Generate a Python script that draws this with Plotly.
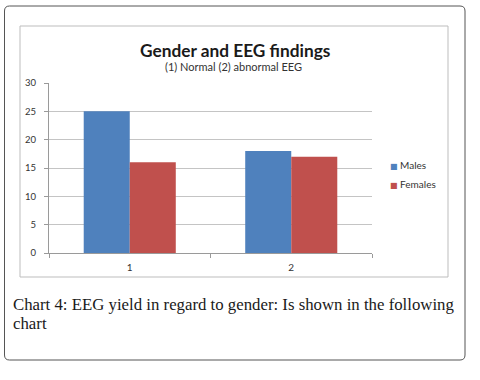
import plotly.graph_objects as go

categories = ["1", "2"]
males = [25, 18]
females = [16, 17]
y_ticks = [0, 5, 10, 15, 20, 25, 30]
series_names = ["Males", "Females"]
series_colors = ["#4F81BD", "#C0504D"]

W, H = 480, 380
L, R, T, B = 49, 108, 83, 127
PW, PH = W - L - R, H - T - B


def px(x):
    return (x - L) / PW


def py(y):
    return (H - B - y) / PH


fig = go.Figure()
for vals, name, col in zip([males, females], series_names, series_colors):
    fig.add_trace(go.Bar(x=categories, y=vals, name=name, marker_color=col,
                         marker_line_width=0, showlegend=False))
# legend entries (swatch drawn as text glyph so it sits close to the label)
for name, col in zip(series_names, series_colors):
    fig.add_trace(go.Scatter(x=[None], y=[None], mode="markers",
                             name=f'<span style="color:{col};font-family:DejaVu Sans;font-size:8px">■</span> {name}',
                             marker=dict(size=0, color="rgba(0,0,0,0)",
                                         line=dict(width=0, color="rgba(0,0,0,0)"))))

shapes = []
# outer rounded frame
x0, x1, y0, y1, r = 4.5, 465, 6, 360, 5
path = (f"M {px(x0+r)},{py(y0)} L {px(x1-r)},{py(y0)} Q {px(x1)},{py(y0)} {px(x1)},{py(y0+r)} "
        f"L {px(x1)},{py(y1-r)} Q {px(x1)},{py(y1)} {px(x1-r)},{py(y1)} "
        f"L {px(x0+r)},{py(y1)} Q {px(x0)},{py(y1)} {px(x0)},{py(y1-r)} "
        f"L {px(x0)},{py(y0+r)} Q {px(x0)},{py(y0)} {px(x0+r)},{py(y0)} Z")
shapes.append(dict(type="path", xref="paper", yref="paper", path=path,
                   line=dict(color="#555555", width=1)))
# inner chart frame
shapes.append(dict(type="rect", xref="paper", yref="paper",
                   x0=px(20), x1=px(448), y0=py(26), y1=py(277),
                   line=dict(color="#BDBDBD", width=1)))

cap_font = dict(family="Liberation Serif", size=16.8, color="#1a1a1a")
annotations = [
    dict(text="<b>Gender and EEG findings</b>", x=px(235), y=py(50), xref="paper", yref="paper",
         showarrow=False, xanchor="center", yanchor="middle",
         font=dict(family="Lato", size=17.3, color="#1a1a1a")),
    dict(text="(1) Normal (2) abnormal EEG", x=px(234), y=py(67), xref="paper", yref="paper",
         showarrow=False, xanchor="center", yanchor="middle",
         font=dict(family="Lato", size=11, color="#333333")),
    dict(text="Chart 4: EEG yield in regard to gender: Is shown in the following",
         x=px(11), y=py(304), xref="paper", yref="paper", showarrow=False,
         xanchor="left", yanchor="middle", font=cap_font),
    dict(text="chart", x=px(11), y=py(323), xref="paper", yref="paper", showarrow=False,
         xanchor="left", yanchor="middle", font=cap_font),
]

fig.update_layout(
    width=W, height=H, template="none",
    margin=dict(l=L, r=R, t=T, b=B, pad=0),
    paper_bgcolor="white", plot_bgcolor="white",
    barmode="group", bargap=0.43, bargroupgap=0,
    shapes=shapes, annotations=annotations,
    legend=dict(x=px(350), y=py(151), xanchor="left", yanchor="top",
                font=dict(family="Lato", size=10, color="#333333"),
                bgcolor="rgba(0,0,0,0)", itemwidth=30, tracegroupgap=0),
    font=dict(family="Lato"),
)
fig.update_xaxes(type="category", tickson="boundaries", ticks="outside", ticklen=4,
                 tickcolor="#9a9a9a", showline=True, linecolor="#9a9a9a", linewidth=1,
                 showgrid=False, zeroline=False, automargin=False, ticklabelstandoff=5,
                 tickfont=dict(family="Lato", size=10, color="#333333"))
fig.update_yaxes(range=[0, 30], tickvals=y_ticks, ticks="outside", ticklen=4,
                 tickcolor="#9a9a9a", showline=True, linecolor="#9a9a9a", linewidth=1,
                 showgrid=True, gridcolor="#C4C4C4", gridwidth=1, zeroline=False,
                 automargin=False, ticklabelstandoff=6,
                 tickfont=dict(family="Lato", size=9.5, color="#333333"))

fig.write_html("out.html", config={"displayModeBar": False},
               post_script="document.body.style.margin='0';")
